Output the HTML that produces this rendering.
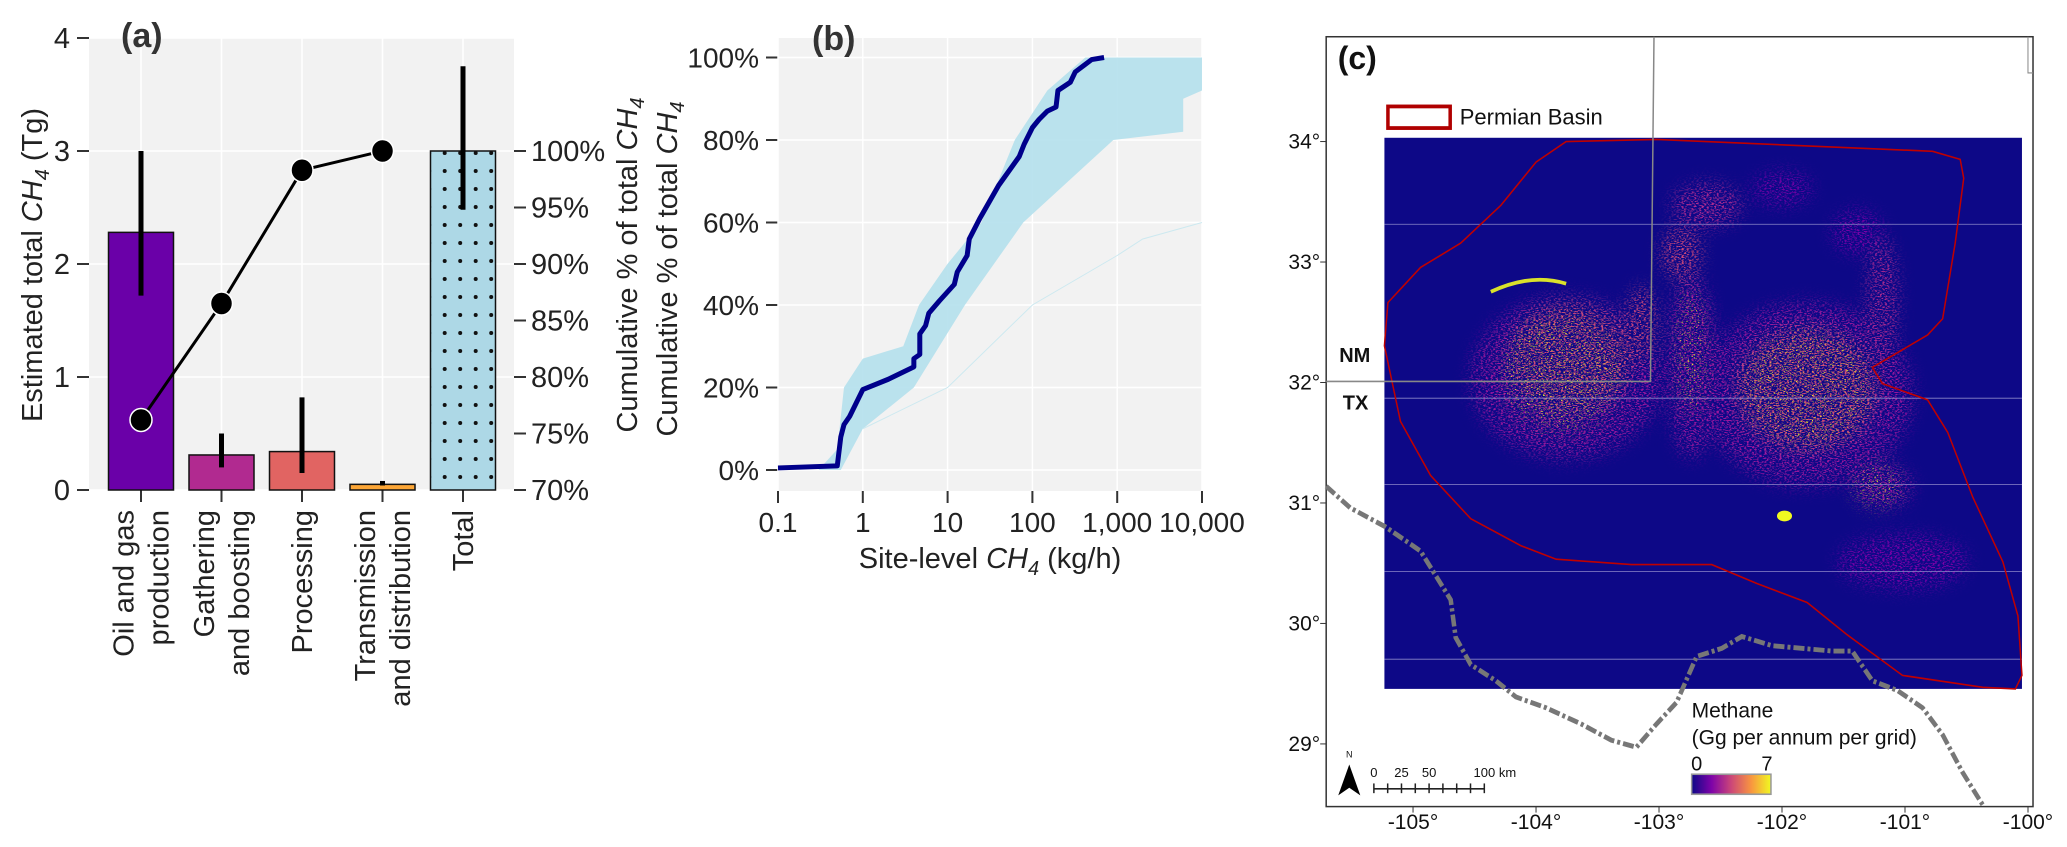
<!DOCTYPE html>
<html><head><meta charset="utf-8"><style>
html,body{margin:0;padding:0;background:#fff;}
svg{display:block;font-family:"Liberation Sans",sans-serif;}
</style></head><body>
<svg id="fig" width="2067" height="847" viewBox="0 0 2067 847" xmlns="http://www.w3.org/2000/svg">
<defs id="defs"></defs>
<g id="pa"></g>
<g id="pb"></g>
<g id="pc"></g>
</svg>
<script>
// ---- Panel (a) data
const catsA = [["Oil and gas","production"],["Gathering","and boosting"],["Processing"],["Transmission","and distribution"],["Total"]];
const barVals = [2.28, 0.31, 0.34, 0.05, 3.0];
const errLo = [1.72, 0.20, 0.15, 0.04, 2.48];
const errHi = [3.0, 0.50, 0.82, 0.08, 3.75];
const barColors = ["#6a00a8","#b12a90","#e16462","#fca636","#add8e6"];
const cumPct = [76.2, 86.5, 98.3, 100];
const leftTicks = [0,1,2,3,4];
const rightTicks = [70,75,80,85,90,95,100];
// ---- Panel (b) data
const mainX = [0.1,0.5,0.55,0.6,0.7,1,2,4,4,4.7,4.7,5.5,6,8,12,13,17,18,24,40,70,80,100,120,150,190,200,280,320,400,500,700];
const mainY = [0.5,1,8,11,13,19.5,22,25,27,28,33,35,38,41,45,48,52,56,61,69,76,79,83,85,87,88,92,94,96.5,98,99.5,100];
const bandUpX = [0.3,0.5,0.6,1,3,4.6,10,25,62,150,420,10000];
const bandUpY = [0,5,20,27,30,40,50,60,80,92,100,100];
const bandLoX = [0.55,1,4,16,78,900,6000,6000,10000];
const bandLoY = [0,10,20,40,60,80,82,90,92];
const outX = [1,10,100,1000,2000,10000];
const outY = [10,20,40,52,56,60];
const bTicksX = [0.1,1,10,100,1000,10000];
const bTickLabX = ["0.1","1","10","100","1,000","10,000"];
const bTicksY = [0,20,40,60,80,100];
// ---- Panel (c) data
const latTicks = [34,33,32,31,30,29];
const lonTicks = [-105,-104,-103,-102,-101,-100];

const NS="http://www.w3.org/2000/svg";
function mk(tag, attrs, parent, text){
  const e=document.createElementNS(NS,tag);
  for(const k in attrs) e.setAttribute(k,attrs[k]);
  if(text!==undefined) e.textContent=text;
  parent.appendChild(e); return e;
}
const defs=document.getElementById('defs');
// ================= Panel A
const pa=document.getElementById('pa');
const ax0=89, ax1=514, ay0=490, ay1=38;
const yA=v=>ay0-(v/4)*(ay0-ay1);
const yR=p=>490-(p-70)/30*(490-151);
const xA=i=>141+i*80.5;
let r=mk('rect',{x:ax0,y:ay1,width:ax1-ax0,height:ay0-ay1,fill:'#f2f2f2'},pa);


for(const t of leftTicks){
  let g=mk('line',{x1:ax0,x2:ax1,y1:yA(t),y2:yA(t),stroke:'#fff','stroke-width':1.5},pa);
  
  
  mk('line',{x1:77,x2:89,y1:yA(t),y2:yA(t),stroke:'#333','stroke-width':2},pa);
  let tl=mk('text',{x:70,y:yA(t)+10,'text-anchor':'end','font-size':29,fill:'#222'},pa,String(t));
  
  
}
for(const p of rightTicks){
  mk('line',{x1:514,x2:526,y1:yR(p),y2:yR(p),stroke:'#333','stroke-width':2},pa);
  let tl=mk('text',{x:531,y:yR(p)+10,'font-size':29,fill:'#222'},pa,p+'%');
  
  
}
const pat=mk('pattern',{id:'dots',width:15.5,height:18,patternUnits:'userSpaceOnUse',x:437,y:0},defs);
mk('rect',{width:15.5,height:18,fill:'#add8e6'},pat);
mk('circle',{cx:7.7,cy:9,r:2,fill:'#111'},pat);
catsA.forEach((c,i)=>{
  const cx=xA(i);
  let v=mk('line',{x1:cx,x2:cx,y1:ay1,y2:ay0,stroke:'#fff','stroke-width':1.5},pa);
  
  
  mk('line',{x1:cx,x2:cx,y1:ay0,y2:ay0+12,stroke:'#333','stroke-width':2},pa);
});
catsA.forEach((c,i)=>{
  const cx=xA(i);
  let b=mk('rect',{x:cx-32.5,y:yA(barVals[i]),width:65,height:yA(0)-yA(barVals[i]),fill:i==4?'url(#dots)':barColors[i],stroke:'#111','stroke-width':1.5},pa);
  
  
});
catsA.forEach((c,i)=>{
  const cx=xA(i);
  let e=mk('line',{x1:cx,x2:cx,y1:yA(errLo[i]),y2:yA(errHi[i]),stroke:'#000','stroke-width':5},pa);
  
  
  const n=c.length;
  c.forEach((ln,j)=>{
    const lx=cx+(j-(n-1)/2)*35+10;
    let t=mk('text',{x:0,y:0,'text-anchor':'end','font-size':29,fill:'#222',transform:`translate(${lx},510) rotate(-90)`},pa,ln);
    
    
  });
});
let pts=cumPct.map((p,i)=>xA(i)+','+yR(p)).join(' ');
let pl=mk('polyline',{points:pts,fill:'none',stroke:'#000','stroke-width':3},pa);


cumPct.forEach((p,i)=>{
  let d=mk('ellipse',{cx:xA(i),cy:yR(p),rx:11,ry:11.5,fill:'#000',stroke:'#fff','stroke-width':1.5},pa);
  
  
});
let t=mk('text',{x:121,y:47,'font-size':34,'font-weight':'bold',fill:'#333'},pa,'(a)');

t=mk('text',{transform:'translate(42,265) rotate(-90)','text-anchor':'middle','font-size':29,fill:'#222'},pa);
t.innerHTML='Estimated total <tspan font-style="italic">CH</tspan><tspan font-style="italic" font-size="20" dy="7">4</tspan><tspan dy="-7"> (Tg)</tspan>';

t=mk('text',{transform:'translate(637,265) rotate(-90)','text-anchor':'middle','font-size':29,fill:'#222'},pa);
t.innerHTML='Cumulative % of total <tspan font-style="italic">CH</tspan><tspan font-style="italic" font-size="20" dy="7">4</tspan>';


// ================= Panel B
const pb=document.getElementById('pb');
const bx0=778,bx1=1202,by0=38,by1=491;
const xB=v=>bx0+(Math.log10(v)+1)*(bx1-bx0)/5;
const yB=p=>470-p/100*(470-57.5);
r=mk('rect',{x:bx0,y:by0,width:bx1-bx0,height:by1-by0,fill:'#f2f2f2'},pb);

bTicksY.forEach(p=>{
  mk('line',{x1:bx0,x2:bx1,y1:yB(p),y2:yB(p),stroke:'#fff','stroke-width':1.5},pb);
  mk('line',{x1:766,x2:778,y1:yB(p),y2:yB(p),stroke:'#333','stroke-width':2},pb);
  let l=mk('text',{x:759,y:yB(p)+10,'text-anchor':'end','font-size':28,fill:'#222'},pb,p+'%');
  
});
bTicksX.forEach((v,i)=>{
  mk('line',{x1:xB(v),x2:xB(v),y1:by0,y2:by1,stroke:'#fff','stroke-width':1.5},pb);
  mk('line',{x1:xB(v),x2:xB(v),y1:by1,y2:by1+12,stroke:'#333','stroke-width':2},pb);
  let l=mk('text',{x:xB(v),y:532,'text-anchor':'middle','font-size':28,fill:'#222'},pb,bTickLabX[i]);
  
});
let bandPts=bandUpX.map((x,i)=>xB(x)+','+yB(bandUpY[i])).concat(bandLoX.map((x,i)=>xB(x)+','+yB(bandLoY[i])).reverse()).join(' ');
let band=mk('polygon',{points:bandPts,fill:'#b4e0ec',opacity:0.9},pb);

let ol=mk('polyline',{points:outX.map((x,i)=>xB(x)+','+yB(outY[i])).join(' '),fill:'none',stroke:'#cde9f0','stroke-width':1},pb);

let ml=mk('polyline',{points:mainX.map((x,i)=>xB(x)+','+yB(mainY[i])).join(' '),fill:'none',stroke:'#00008b','stroke-width':5,'stroke-linejoin':'round'},pb);

t=mk('text',{x:812,y:50,'font-size':34,'font-weight':'bold',fill:'#333'},pb,'(b)');

t=mk('text',{transform:'translate(677,269) rotate(-90)','text-anchor':'middle','font-size':29,fill:'#222'},pb);
t.innerHTML='Cumulative % of total <tspan font-style="italic">CH</tspan><tspan font-style="italic" font-size="20" dy="7">4</tspan>';

t=mk('text',{x:990,y:568,'text-anchor':'middle','font-size':29,fill:'#222'},pb);
t.innerHTML='Site-level <tspan font-style="italic">CH</tspan><tspan font-style="italic" font-size="20" dy="7">4</tspan><tspan dy="-7"> (kg/h)</tspan>';


// ================= Panel C
const pc=document.getElementById('pc');
const X=x=>1280+x/1.992, Y=y=>y/1.851;
const yLat=l=>Y(262)+(34-l)*(Y(1377)-Y(262))/5;
const xLon=l=>X(265)+(l+105)*(X(1490)-X(265))/5;
let fr=mk('rect',{x:X(92),y:Y(68),width:X(1500)-X(92),height:Y(1493)-Y(68),fill:'#fff',stroke:'#333','stroke-width':1.5},pc);

latTicks.forEach(l=>{
  mk('line',{x1:X(92)-6,x2:X(92),y1:yLat(l),y2:yLat(l),stroke:'#333'},pc);
  let x=mk('text',{x:X(80),y:yLat(l)+7,'text-anchor':'end','font-size':21,fill:'#111'},pc,l+'°');
  
});
lonTicks.forEach(l=>{
  mk('line',{x1:xLon(l),x2:xLon(l),y1:Y(1493),y2:Y(1493)+6,stroke:'#333'},pc);
  let x=mk('text',{x:xLon(l),y:Y(1520)+8,'text-anchor':'middle','font-size':21,fill:'#111'},pc,'-'+Math.abs(l)+'°');
  
});
const g=mk('g',{transform:'translate(1280,0) scale(0.502,0.5403)'},pc);
let ras=mk('rect',{x:208,y:255,width:1270,height:1020,fill:'#0d0887'},g);

// speckle filters
function speck(id,freq,thr,seed){
  const f=mk('filter',{id:id,x:'-30%',y:'-30%',width:'160%',height:'160%'},defs);
  mk('feGaussianBlur',{in:'SourceGraphic',stdDeviation:16,result:'b'},f);
  mk('feTurbulence',{type:'fractalNoise',baseFrequency:freq,numOctaves:2,seed:seed,result:'n'},f);
  mk('feColorMatrix',{in:'n',type:'matrix',values:'0 0 0 0 0  0 0 0 0 0  0 0 0 0 0  9 0 0 0 '+thr,result:'m'},f);
  mk('feComposite',{in:'b',in2:'m',operator:'in'},f);
}
speck('spk','0.2 0.5',-4.6,3);
speck('spk2','0.25 0.6',-5.6,7);
const hz=mk('g',{filter:'url(#spk)'},g);
[[570,700,190,150,'#9c179e'],[580,660,120,100,'#cc4778'],[1050,730,210,170,'#9c179e'],[1050,720,140,110,'#cc4778'],
 [820,680,50,170,'#9c179e'],[850,380,70,40,'#b12a90'],[800,470,40,50,'#cc4778'],[1240,1040,130,50,'#7e03a8'],
 [1200,560,30,120,'#b12a90'],[720,600,30,70,'#cc4778'],[1150,430,50,40,'#7e03a8'],[1200,900,60,40,'#9c179e'],[1000,350,60,30,'#7e03a8']].forEach(h=>{
  mk('ellipse',{cx:h[0],cy:h[1],rx:h[2],ry:h[3],fill:h[4]},hz);
});
const hz2=mk('g',{filter:'url(#spk2)'},g);
[[560,690,120,110],[1050,720,130,110],[1190,900,50,40],[820,650,30,120]].forEach(h=>mk('ellipse',{cx:h[0],cy:h[1],rx:h[2],ry:h[3],fill:'#f0f921'},hz2));
mk('path',{d:'M420,540 Q500,505 570,525',stroke:'#f0f921','stroke-width':7,fill:'none',opacity:0.9},g);
mk('ellipse',{cx:1005,cy:955,rx:15,ry:10,fill:'#f0f921'},g);
[415,737,897,1058,1220].forEach(y=>mk('line',{x1:208,x2:1478,y1:y,y2:y,stroke:'#8c86c8','stroke-width':1.5},g));
let outline=mk('path',{d:'M208,640 L215,560 L280,495 L360,450 L440,380 L510,300 L570,262 L750,258 L1300,280 L1355,295 L1362,330 L1345,450 L1320,590 L1290,620 L1180,680 L1200,710 L1290,740 L1330,800 L1380,920 L1440,1040 L1470,1140 L1478,1250 L1465,1275 L1400,1272 L1240,1250 L1130,1175 L1050,1115 L950,1080 L860,1045 L700,1045 L550,1035 L480,1010 L380,960 L300,880 L240,780 Z',fill:'none',stroke:'#c00000','stroke-width':3},g);

let st=mk('path',{d:'M745,68 L738,706 L92,706',fill:'none',stroke:'#888','stroke-width':3},g);

mk('path',{d:'M1490,68 L1490,135 L1500,135',fill:'none',stroke:'#888','stroke-width':2},g);
let rv=mk('path',{d:'M92,900 L140,940 L210,975 L280,1020 L340,1110 L350,1180 L380,1230 L430,1260 L470,1290 L530,1310 L600,1340 L660,1370 L710,1383 L750,1340 L790,1300 L830,1215 L880,1200 L920,1178 L980,1195 L1100,1205 L1140,1205 L1180,1260 L1230,1278 L1280,1310 L1320,1360 L1360,1430 L1400,1490',fill:'none',stroke:'#777','stroke-width':9,'stroke-dasharray':'22 6 6 6'},g);

let lg=mk('rect',{x:215,y:197,width:124,height:40,fill:'#fff',stroke:'#b00000','stroke-width':7},g);

const lgr=mk('linearGradient',{id:'plasma',x1:0,x2:1,y1:0,y2:0},defs);
[['0','#0d0887'],['0.25','#7e03a8'],['0.5','#cc4778'],['0.75','#f89540'],['1','#f0f921']].forEach(s=>mk('stop',{offset:s[0],'stop-color':s[1]},lgr));
let cb=mk('rect',{x:820,y:1433,width:158,height:37,fill:'url(#plasma)',stroke:'#999','stroke-width':3},g);

let na=mk('path',{d:'M138,1415 L160,1472 L138,1458 L116,1472 Z',fill:'#000'},g);

const sb=mk('g',{stroke:'#222','stroke-width':3},g);


mk('line',{x1:187,x2:407,y1:1460,y2:1460},sb);
for(let k=0;k<=8;k++) mk('line',{x1:187+k*27.5,x2:187+k*27.5,y1:1450,y2:1468},sb);
function txt(x,y,s,size,name,extra){
  const a={x:X(x),y:Y(y),'font-size':size,fill:'#111'};
  Object.assign(a,extra||{});
  const e=mk('text',a,pc,s);
  
  
  return e;
}
txt(358,230,'Permian Basin',22,'legend-label-permian');
txt(115,128,'(c)',32,'panel-label-c',{'font-weight':'bold'});
txt(118,670,'NM',20,'state-label-nm',{'font-weight':'bold'});
txt(125,758,'TX',20,'state-label-tx',{'font-weight':'bold'});
txt(820,1328,'Methane',21,'colorbar-title');
txt(820,1378,'(Gg per annum per grid)',21,'colorbar-subtitle');
txt(830,1426,'0',20,'colorbar-min-label',{'text-anchor':'middle'});
txt(970,1426,'7',20,'colorbar-max-label',{'text-anchor':'middle'});
txt(138,1402,'N',9,'north-label',{'text-anchor':'middle'});
[['0',187],['25',242],['50',297],['100 km',428]].forEach(s=>txt(s[1],1438,s[0],13,'scale-bar-label',{'text-anchor':'middle'}));
</script>
</body></html>
